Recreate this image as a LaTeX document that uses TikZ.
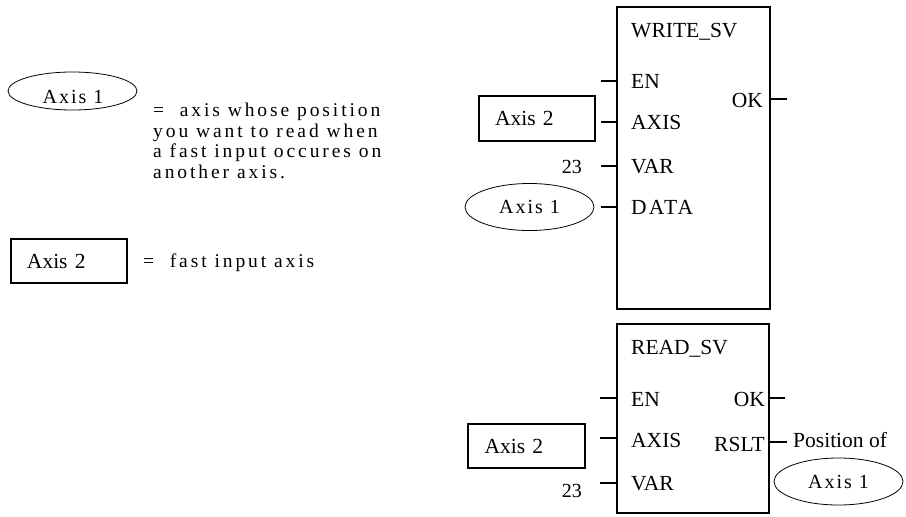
\documentclass[tikz,border=0pt]{standalone}
\usepackage{fontspec}
\setmainfont{Liberation Serif}
\newfontfamily\spcfont[LetterSpace=15]{Liberation Serif}
\newfontfamily\ellfont[LetterSpace=10]{Liberation Serif}
\usetikzlibrary{shapes.geometric}
\begin{document}
\begin{tikzpicture}[x=1pt,y=-1pt,
  lbl/.style={font=\fontsize{21.5}{24}\selectfont, inner sep=0pt},
  desc/.style={font=\spcfont\fontsize{19.5}{20.5}\selectfont, inner sep=0pt, align=left},
  blk/.style={draw, line width=1.6pt, inner sep=0pt},
  pin/.style={line width=1.6pt},
  axbox/.style={draw, line width=1.6pt, font=\fontsize{21.5}{24}\selectfont, inner xsep=16pt, inner ysep=0pt, text width=84pt, align=left},
  axell/.style={draw, ellipse, line width=0.8pt, font=\ellfont\fontsize{20}{24}\selectfont, inner sep=0pt, minimum width=129pt, minimum height=47pt},
  elltxt/.style={font=\ellfont\fontsize{20}{24}\selectfont, inner sep=0pt},
  num/.style={font=\fontsize{20}{24}\selectfont, inner sep=0pt}]
\useasboundingbox (0,0) rectangle (906,517);

% legend
\node[axell, minimum height=38pt] (legell) at (72.5,91) {};
\node[elltxt, anchor=base] (legelltxt) at (73,103) {Axis 1};
\node[desc, anchor=base west] (legtxt) at (153,116.5) {=\ \ axis whose position};
\node[desc, anchor=base west] (legtxtb) at (153,137) {you want to read when};
\node[desc, anchor=base west] (legtxtc) at (153,157.5) {a fast input occures on};
\node[desc, anchor=base west] (legtxtd) at (153,178) {another axis.};
\node[axbox, minimum width=114pt, minimum height=44pt] (legbox) at (69,261) {Axis 2};
\node[desc, anchor=base west] (legtxt2) at (143,267) {=\ \ fast input axis};

% WRITE_SV block
\node[blk, minimum width=153pt, minimum height=302pt] (wblk) at (693.5,158) {};
\node[lbl, anchor=base west] (wtitle) at (631,37) {WRITE\_SV};
\node[lbl, anchor=base west] (wen) at (631,88) {EN};
\node[lbl, anchor=base west] (waxis) at (631,129) {AXIS};
\node[lbl, anchor=base west] (wvar) at (631,173) {VAR};
\node[lbl, anchor=base west] (wdata) at (631,214) {\ellfont DATA};
\node[lbl, anchor=base east] (wok) at (763,107) {OK};
\coordinate (wenL) at (601,81);
\coordinate (waxisL) at (601,122);
\coordinate (wvarL) at (601,166);
\coordinate (wdataL) at (601,207);
\coordinate (wokR) at (787,99);
\draw[pin] (wenL) -- (wenL -| wblk.west);
\draw[pin] (waxisL) -- (waxisL -| wblk.west);
\draw[pin] (wvarL) -- (wvarL -| wblk.west);
\draw[pin] (wdataL) -- (wdataL -| wblk.west);
\draw[pin] (wokR -| wblk.east) -- (wokR);
\node[axbox, minimum width=116pt, minimum height=45pt] (wbox) at (537,118.5) {Axis 2};
\node[num, anchor=base east] (w23) at (582,173) {23};
\node[axell] (well) at (529.5,207) {Axis 1};

% READ_SV block
\node[blk, minimum width=152pt, minimum height=189pt] (rblk) at (693,418.5) {};
\node[lbl, anchor=base west] (rtitle) at (631,354) {READ\_SV};
\node[lbl, anchor=base west] (ren) at (631,406) {EN};
\node[lbl, anchor=base west] (raxis) at (631,447) {AXIS};
\node[lbl, anchor=base west] (rvar) at (631,490) {VAR};
\node[lbl, anchor=base east] (rok) at (765,406) {OK};
\node[lbl, anchor=base east] (rrslt) at (765,451) {RSLT};
\coordinate (renL) at (600,398);
\coordinate (raxisL) at (600,438);
\coordinate (rvarL) at (600,483);
\coordinate (rokR) at (785,398);
\coordinate (rrsltR) at (787,442);
\draw[pin] (renL) -- (renL -| rblk.west);
\draw[pin] (raxisL) -- (raxisL -| rblk.west);
\draw[pin] (rvarL) -- (rvarL -| rblk.west);
\draw[pin] (rokR -| rblk.east) -- (rokR);
\draw[pin] (rrsltR -| rblk.east) -- (rrsltR);
\node[lbl, anchor=base west] (rpos) at (793,447) {Position of};
\node[axbox, minimum width=117pt, minimum height=44pt] (rbox) at (526.5,446) {Axis 2};
\node[num, anchor=base east] (r23) at (582,497) {23};
\node[axell] (rell) at (838.5,481.5) {Axis 1};
\end{tikzpicture}
\end{document}
